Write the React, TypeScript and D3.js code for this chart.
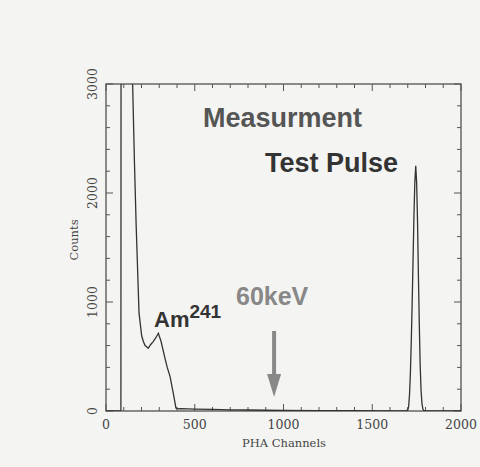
import React from "react";
import * as d3 from "d3";

const channels = [0, 80, 84, 86, 150, 160, 170, 178, 186, 201, 210, 220, 229, 238, 252, 266, 280, 295, 310, 332, 345, 361, 379, 394, 405, 420, 500, 600, 700, 800, 900, 1000, 1200, 1400, 1600, 1690, 1700, 1705, 1710, 1715, 1720, 1725, 1730, 1735, 1740, 1745, 1750, 1755, 1760, 1765, 1770, 1775, 1780, 1785, 1790, 1800, 1900, 2000];
const counts = [0, 0, 0, 9000, 3000, 2300, 1700, 1300, 900, 690, 640, 600, 590, 575, 610, 636, 670, 713, 640, 486, 400, 315, 165, 28, 20, 22, 18, 14, 11, 9, 7, 6, 4, 3, 2, 2, 10, 40, 150, 350, 650, 1000, 1400, 1800, 2100, 2250, 2100, 1750, 1250, 800, 420, 190, 70, 20, 5, 1, 0, 0];

const xMajor = [0, 500, 1000, 1500, 2000];
const yMajor = [0, 1000, 2000, 3000];
const xLabel = "PHA Channels";
const yLabel = "Counts";

const W = 480, H = 467;
const m = { left: 106, right: 461, top: 84, bottom: 411 };

export default function App() {
  const x = d3.scaleLinear().domain([0, 2000]).range([m.left, m.right]);
  const y = d3.scaleLinear().domain([0, 3000]).range([m.bottom, m.top]);
  const pts = channels.map((c, i) => [c, counts[i]] as [number, number]);
  const line = d3.line<[number, number]>().x(d => x(d[0])).y(d => y(d[1]));
  const xMinor = d3.range(0, 2001, 100);
  const yMinor = d3.range(0, 3001, 200);
  const serif = "'DejaVu Serif', 'Liberation Serif', serif";
  const sans = "'Liberation Sans', Arial, sans-serif";
  const arrowX = x(947);
  return (
    <div style={{ position: "fixed", left: 0, top: 0 }}>
      <svg width={W} height={H} style={{ display: "block" }}>
        <rect x={0} y={0} width={W} height={H} fill="#f4f4f2" />
        <defs>
          <clipPath id="plotclip">
            <rect x={m.left} y={m.top} width={m.right - m.left} height={m.bottom - m.top} />
          </clipPath>
        </defs>
        <rect x={m.left} y={m.top} width={m.right - m.left} height={m.bottom - m.top} fill="none" stroke="#444" strokeWidth={1.2} />
        {xMinor.map(v => {
          const len = v % 500 === 0 ? 7 : 4;
          return (
            <g key={"xt" + v}>
              <line x1={x(v)} x2={x(v)} y1={m.bottom} y2={m.bottom - len} stroke="#555" />
              <line x1={x(v)} x2={x(v)} y1={m.top} y2={m.top + len} stroke="#555" />
            </g>
          );
        })}
        {yMinor.map(v => {
          const len = v % 1000 === 0 ? 7 : 4;
          return (
            <g key={"yt" + v}>
              <line x1={m.left} x2={m.left + len} y1={y(v)} y2={y(v)} stroke="#555" />
              <line x1={m.right} x2={m.right - len} y1={y(v)} y2={y(v)} stroke="#555" />
            </g>
          );
        })}
        {xMajor.map(v => (
          <text key={"xl" + v} x={x(v)} y={429} textAnchor="middle" fontFamily={serif} fontSize={12.5} fill="#444">{v}</text>
        ))}
        {yMajor.map(v => (
          <text key={"yl" + v} transform={`translate(97,${y(v)}) rotate(-90)`} textAnchor="middle" fontFamily={serif} fontSize={12.5} fill="#444">{v}</text>
        ))}
        <text x={284} y={447} textAnchor="middle" fontFamily={serif} fontSize={11.5} fill="#444">{xLabel}</text>
        <text transform={`translate(78,240) rotate(-90)`} textAnchor="middle" fontFamily={serif} fontSize={11.5} fill="#444">{yLabel}</text>
        <path d={line(pts) || ""} fill="none" stroke="#333" strokeWidth={1.3} clipPath="url(#plotclip)" />
        <text x={203} y={127} fontFamily={sans} fontWeight="bold" fontSize={27} fill="#555">Measurment</text>
        <text x={265} y={172} fontFamily={sans} fontWeight="bold" fontSize={27} fill="#333">Test Pulse</text>
        <text x={154} y={327} fontFamily={sans} fontWeight="bold" fontSize={22} fill="#333">Am<tspan dy={-9} fontSize={19}>241</tspan></text>
        <text x={236} y={305} fontFamily={sans} fontWeight="bold" fontSize={25} fill="#888">60keV</text>
        <line x1={arrowX} x2={arrowX} y1={331} y2={378} stroke="#888" strokeWidth={4} />
        <path d={`M${arrowX - 7},374 L${arrowX + 7},374 L${arrowX},397 Z`} fill="#888" />
      </svg>
    </div>
  );
}
